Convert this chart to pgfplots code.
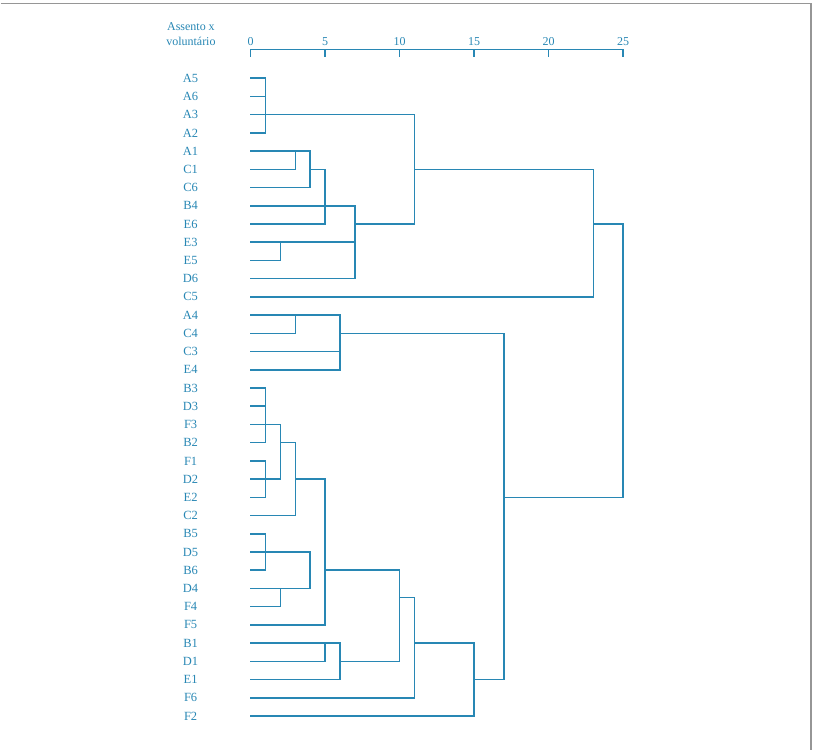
\documentclass[border=0pt]{standalone}
\usepackage{pgfplots}
\pgfplotsset{compat=1.18}
\usepackage{fontspec}
\setmainfont{Liberation Serif}
\definecolor{dblue}{RGB}{40,135,180}
\definecolor{frame}{RGB}{150,150,150}
\begin{document}
\begin{tikzpicture}
\begin{axis}[
  scale only axis, width=373pt, height=667.4pt,
  xmin=0, xmax=25, ymin=-36, ymax=0.59,
  clip=false,
  axis x line*=top, axis y line*=left,
  y axis line style={draw=none},
  x axis line style={dblue, line width=1.4pt},
  xtick={0,5,10,15,20,25},
  xtick align=inside,
  major tick length=8pt,
  xtick style={dblue, line width=1.4pt},
  ytick={-36,-35,...,-1},
  ytick style={draw=none},
  yticklabels={F2,F6,E1,D1,B1,F5,F4,D4,B6,D5,B5,C2,E2,D2,F1,B2,F3,D3,B3,E4,C3,C4,A4,C5,D6,E5,E3,E6,B4,C6,C1,A1,A2,A3,A6,A5},
  yticklabel style={anchor=center, xshift=-60pt, font=\fontsize{12.5}{14}\selectfont},
  xticklabel style={font=\fontsize{12}{14}\selectfont},
  /pgf/number format/assume math mode=true,
  ticklabel style={text=dblue},
  unbounded coords=jump,
]
% invisible frame extent
\path (axis cs:-16.756,3.293) rectangle (axis cs:38.137,-37.88);
\draw[frame, line width=1.6pt] (axis cs:-16.756,3.11) -- (axis cs:37.6,3.11) -- (axis cs:37.6,-37.88);
\node[text=dblue, align=center, font=\fontsize{12}{15}\selectfont] at (axis cs:-4.0,1.42) {Assento x\\volunt\'ario};
% upper cluster
\addplot[dblue, line width=1.5pt, line cap=rect] coordinates {
(0,-1)(1,-1) (nan,nan)
(0,-2)(1,-2) (nan,nan)
(0,-3)(11,-3) (nan,nan)
(0,-4)(1,-4) (nan,nan)
(1,-1)(1,-4) (nan,nan)
(0,-5)(4,-5) (nan,nan)
(0,-6)(3,-6) (nan,nan)
(3,-5)(3,-6) (nan,nan)
(0,-7)(4,-7) (nan,nan)
(4,-5)(4,-7) (nan,nan)
(4,-6)(5,-6) (nan,nan)
(0,-8)(7,-8) (nan,nan)
(0,-9)(5,-9) (nan,nan)
(5,-6)(5,-9) (nan,nan)
(0,-10)(7,-10) (nan,nan)
(0,-11)(2,-11) (nan,nan)
(2,-10)(2,-11) (nan,nan)
(0,-12)(7,-12) (nan,nan)
(7,-8)(7,-12) (nan,nan)
(7,-9)(11,-9) (nan,nan)
(11,-3)(11,-9) (nan,nan)
(11,-6)(23,-6) (nan,nan)
(0,-13)(23,-13) (nan,nan)
(23,-6)(23,-13) (nan,nan)
(23,-9)(25,-9) (nan,nan)
(25,-9)(25,-24) (nan,nan)
(17,-24)(25,-24)
};
% lower cluster
\addplot[dblue, line width=1.5pt, line cap=rect] coordinates {
(0,-14)(6,-14) (nan,nan)
(0,-15)(3,-15) (nan,nan)
(3,-14)(3,-15) (nan,nan)
(0,-16)(6,-16) (nan,nan)
(0,-17)(6,-17) (nan,nan)
(6,-14)(6,-17) (nan,nan)
(6,-15)(17,-15) (nan,nan)
(17,-15)(17,-34) (nan,nan)
(0,-18)(1,-18) (nan,nan)
(0,-19)(1,-19) (nan,nan)
(0,-20)(2,-20) (nan,nan)
(0,-21)(1,-21) (nan,nan)
(1,-18)(1,-21) (nan,nan)
(0,-22)(1,-22) (nan,nan)
(0,-23)(2,-23) (nan,nan)
(0,-24)(1,-24) (nan,nan)
(1,-22)(1,-24) (nan,nan)
(2,-20)(2,-23) (nan,nan)
(2,-21)(3,-21) (nan,nan)
(0,-25)(3,-25) (nan,nan)
(3,-21)(3,-25) (nan,nan)
(3,-23)(5,-23) (nan,nan)
(5,-23)(5,-31) (nan,nan)
(0,-26)(1,-26) (nan,nan)
(0,-27)(4,-27) (nan,nan)
(0,-28)(1,-28) (nan,nan)
(1,-26)(1,-28) (nan,nan)
(0,-29)(4,-29) (nan,nan)
(0,-30)(2,-30) (nan,nan)
(2,-29)(2,-30) (nan,nan)
(4,-27)(4,-29) (nan,nan)
(0,-31)(5,-31) (nan,nan)
(5,-28)(10,-28) (nan,nan)
(10,-28)(10,-33) (nan,nan)
(0,-32)(6,-32) (nan,nan)
(0,-33)(5,-33) (nan,nan)
(5,-32)(5,-33) (nan,nan)
(0,-34)(6,-34) (nan,nan)
(6,-32)(6,-34) (nan,nan)
(6,-33)(10,-33) (nan,nan)
(10,-29.5)(11,-29.5) (nan,nan)
(0,-35)(11,-35) (nan,nan)
(11,-29.5)(11,-35) (nan,nan)
(11,-32)(15,-32) (nan,nan)
(0,-36)(15,-36) (nan,nan)
(15,-32)(15,-36) (nan,nan)
(15,-34)(17,-34)
};
\end{axis}
\end{tikzpicture}
\end{document}
